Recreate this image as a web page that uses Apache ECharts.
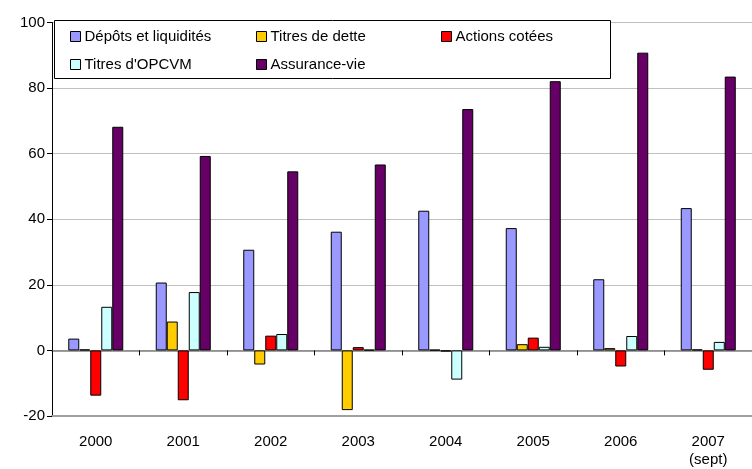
<!DOCTYPE html>
<html><head><meta charset="utf-8">
<script src="https://cdn.jsdelivr.net/npm/echarts@6/dist/echarts.min.js"></script>
<style>html,body{margin:0;padding:0;background:#fff}#c{width:752px;height:469px}</style>
</head><body><div id="c"></div>
<script>
var categories = ['2000','2001','2002','2003','2004','2005','2006','2007\n(sept)'];
var depots    = [3.6, 20.7, 30.7, 36.2, 42.6, 37.3, 21.7, 43.4];
var dette     = [0.3, 8.8, -4.3, -18.2, 0.2, 1.9, 0.7, 0.3];
var actions   = [-13.8, -15.2, 4.5, 1.0, -0.3, 3.9, -4.9, -5.9];
var opcvm     = [13.3, 17.8, 5.0, 0.2, -8.9, 1.1, 4.4, 2.6];
var assurance = [68.2, 59.3, 54.6, 56.7, 73.6, 82.1, 90.8, 83.5];
var seriesNames = ['Dépôts et liquidités','Titres de dette','Actions cotées',"Titres d'OPCVM",'Assurance-vie'];
var seriesColors = ['#9999FF','#FFCC00','#FF0000','#CCFFFF','#660066'];
var seriesData = [depots, dette, actions, opcvm, assurance];
var yTicks = {min:-20, max:100, interval:20};

var FONT = 'Arial, "Liberation Sans", sans-serif';
var chart = echarts.init(document.getElementById('c'));
var legendPos = [[70,29],[256,29],[441,29],[70,57],[256,57]];
var legends = seriesNames.map(function(n,i){
  return {
    data:[n], left:legendPos[i][0], top:legendPos[i][1], z:20,
    icon:'rect', itemWidth:10, itemHeight:10, itemGap:0, padding:0,
    selectedMode:false,
    itemStyle:{borderColor:'#000', borderWidth:1},
    textStyle:{fontFamily:FONT, fontSize:15, color:'#000', padding:[0,0,0,-1]}
  };
});
var series = seriesData.map(function(d,i){
  return {
    name:seriesNames[i], type:'bar', data:d, xAxisIndex:0,
    barWidth:11, barGap:'0%',
    itemStyle:{color:seriesColors[i], borderColor:'#000', borderWidth:1},
    animation:false
  };
});
chart.setOption({
  animation:false,
  grid:{left:52, right:-10, top:22.5, bottom:52.3, containLabel:false},
  legend:legends,
  graphic:[{type:'rect', z:15, shape:{x:54.5, y:20.5, width:556, height:58},
    style:{fill:'#fff', stroke:'#000', lineWidth:1}}],
  xAxis:[{
    type:'category', data:categories, position:'bottom',
    axisLine:{onZero:true, lineStyle:{color:'#808080', width:1.5}},
    axisTick:{show:true, inside:false, length:5, lineStyle:{color:'#000'}},
    axisLabel:{show:false}, splitLine:{show:false}
  },{
    type:'category', data:categories, position:'bottom',
    axisLine:{onZero:false, lineStyle:{color:'#a0a0a0', width:2}},
    axisTick:{show:false},
    axisLabel:{show:true, margin:17, fontFamily:FONT, fontSize:15, color:'#000', lineHeight:18},
    splitLine:{show:false}
  }],
  yAxis:{
    type:'value', min:yTicks.min, max:yTicks.max, interval:yTicks.interval,
    axisLine:{show:true, lineStyle:{color:'#000', width:1}},
    axisTick:{show:true, length:5, lineStyle:{color:'#000'}},
    axisLabel:{margin:7, fontFamily:FONT, fontSize:15, color:'#000'},
    splitLine:{show:true, lineStyle:{color:'#c0c0c0', width:1}}
  },
  series:series
});
</script></body></html>
